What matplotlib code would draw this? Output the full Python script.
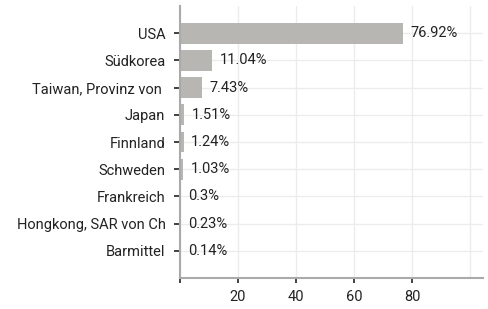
import matplotlib
matplotlib.use("Agg")
import matplotlib.pyplot as plt

categories = ["USA", "Südkorea", "Taiwan, Provinz von ", "Japan", "Finnland",
              "Schweden", "Frankreich", "Hongkong, SAR von Ch", "Barmittel"]
values = [76.92, 11.04, 7.43, 1.51, 1.24, 1.03, 0.3, 0.23, 0.14]
labels = ["76.92%", "11.04%", "7.43%", "1.51%", "1.24%", "1.03%", "0.3%", "0.23%", "0.14%"]
xticks = [20, 40, 60, 80]

plt.rcParams['font.family'] = ['Roboto', 'DejaVu Sans']
FS = 10.5

fig = plt.figure(figsize=(4.89, 3.09), dpi=100)
ax = fig.add_axes([180/489, 1-278/309, (483-180)/489, (278-6)/309])

y = list(range(len(categories)))
ax.barh(y, values, height=0.77, color="#b7b6b2", zorder=2)
for yi, v, l in zip(y, values, labels):
    ax.text(v + 2.6, yi, l, va="center", ha="left", fontsize=FS, color="#222222", zorder=3)

ax.set_ylim(9, -1)
ax.set_xlim(0, 104.5)
ax.set_yticks(y)
ax.set_yticklabels(categories, fontsize=FS, color="#222222")
ax.set_xticks([0] + xticks)
ax.set_xticklabels([""] + [str(t) for t in xticks], fontsize=FS, color="#222222")
ax.axvline(100, color="#ececec", linewidth=1, zorder=0)

ax.grid(True, color="#ececec", linewidth=1, zorder=0)
ax.set_axisbelow(True)
for s in ["top", "right"]:
    ax.spines[s].set_visible(False)
for s in ["left", "bottom"]:
    ax.spines[s].set_color("#aaaaaa")
    ax.spines[s].set_linewidth(1.5)
ax.tick_params(axis="y", length=4.5, width=1.3, color="#333333", pad=6)
ax.tick_params(axis="x", length=3.6, width=1.3, color="#333333", pad=5)

fig.savefig("out.png", dpi=100)
